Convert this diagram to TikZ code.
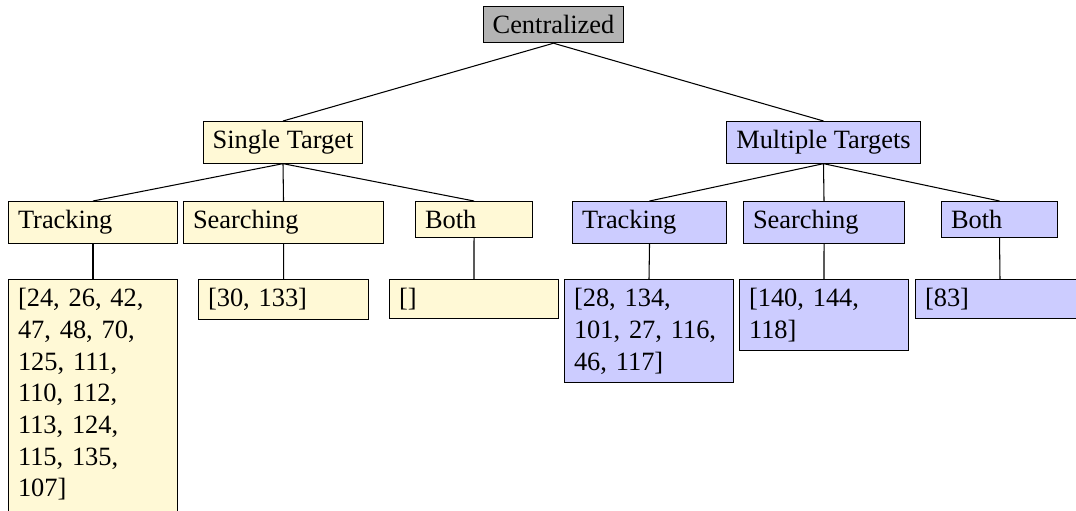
\documentclass[tikz,border=0pt]{standalone}
\usepackage{fontspec}
\setmainfont{Liberation Serif}
\definecolor{ylw}{RGB}{255,249,214}
\definecolor{blu}{RGB}{204,204,255}
\definecolor{gry}{RGB}{179,179,179}
\begin{document}
\begin{tikzpicture}[x=0.3788pt,y=-0.3788pt,
  box/.style={draw=black, line width=0.4pt, inner xsep=3.6pt, inner ysep=3.33pt, font=\fontsize{10}{12}\selectfont},
  yb/.style={box, fill=ylw},
  bb/.style={box, fill=blu},
  gb/.style={box, fill=gry, anchor=north},
  wbox/.style={text width=#1, align=left, anchor=north west},
  conn/.style={draw=black, line width=0.4pt}]
\clip (0,0) rectangle (1076,510);
% root and level 1
\node[gb] (root) at (553.5,6) {Centralized};
\node[yb, anchor=north] (st) at (283,121) {Single Target};
\node[bb, anchor=north] (mt) at (823.5,121) {Multiple Targets};
% level 2
\node[yb, wbox=56.8pt] (tl) at (8,201) {Tracking};
\node[yb, wbox=68.56pt] (sl) at (183,201) {Searching};
\node[yb, wbox=37.12pt] (bl) at (415,201) {Both};
\node[bb, wbox=51.14pt] (tr) at (572,201) {Tracking};
\node[bb, wbox=53.79pt] (sr) at (743,201) {Searching};
\node[bb, wbox=36.74pt] (br) at (941,201) {Both};
% leaves
\node[yb, wbox=56.8pt] (ltl) at (8,279) {[24, 26, 42,\\47, 48, 70,\\125, 111,\\110, 112,\\113, 124,\\115, 135,\\107]\rule[-12pt]{0pt}{12pt}};
\node[yb, wbox=57.2pt] (lsl) at (198,279) {[30, 133]};
\node[yb, wbox=56.8pt] (lbl) at (389,279) {[]};
\node[bb, wbox=56.8pt] (ltr) at (564,279) {[28, 134,\\101, 27, 116,\\46, 117]};
\node[bb, wbox=56.8pt] (lsr) at (739,279) {[140, 144,\\118]};
\node[bb, wbox=56.8pt] (lbr) at (915,279) {[83]};
% connectors
\draw[conn] (root.south) -- (st.north);
\draw[conn] (root.south) -- (mt.north);
\draw[conn] (st.south) -- (tl.north);
\draw[conn] (st.south) -- (sl.north);
\draw[conn] (st.south) -- (bl.north);
\draw[conn] (mt.south) -- (tr.north);
\draw[conn] (mt.south) -- (sr.north);
\draw[conn] (mt.south) -- (br.north);
\draw[conn] (tl.south) -- (ltl.north);
\draw[conn] (sl.south) -- (lsl.north);
\draw[conn] (bl.south) -- (lbl.north);
\draw[conn] (tr.south) -- (ltr.north);
\draw[conn] (sr.south) -- (lsr.north);
\draw[conn] (br.south) -- (lbr.north);
\end{tikzpicture}
\end{document}
